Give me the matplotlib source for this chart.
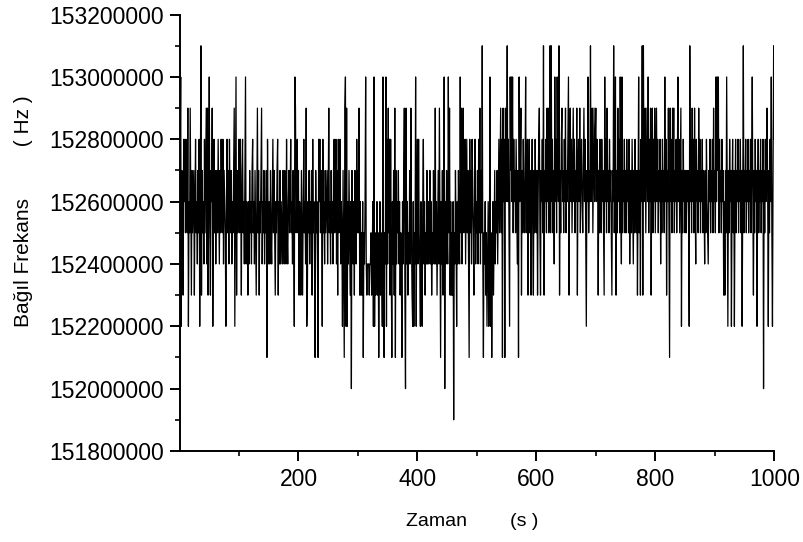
import matplotlib
matplotlib.use("Agg")
import matplotlib.pyplot as plt
from matplotlib.ticker import MultipleLocator, FuncFormatter

plt.rcParams['font.family'] = ['Liberation Sans', 'DejaVu Sans']

# Frequency readings in units of 100 kHz, one per second (t = 1..1000)
freq_0001_0050 = [1527, 1530, 1522, 1527, 1526, 1523, 1528, 1526, 1528, 1525,
                  1528, 1526, 1525, 1529, 1522, 1526, 1525, 1529, 1526, 1523,
                  1527, 1525, 1526, 1527, 1523, 1526, 1528, 1525, 1526, 1524,
                  1527, 1525, 1528, 1522, 1526, 1531, 1523, 1527, 1525, 1526,
                  1524, 1528, 1525, 1527, 1529, 1524, 1529, 1523, 1526, 1530]
freq_0051_0100 = [1525, 1523, 1527, 1526, 1529, 1522, 1526, 1528, 1525, 1527,
                  1524, 1526, 1527, 1525, 1528, 1526, 1524, 1527, 1525, 1528,
                  1526, 1525, 1528, 1524, 1527, 1526, 1525, 1522, 1526, 1528,
                  1525, 1527, 1524, 1528, 1526, 1525, 1527, 1524, 1526, 1525,
                  1527, 1529, 1522, 1526, 1530, 1523, 1527, 1525, 1526, 1528]
freq_0101_0150 = [1525, 1528, 1526, 1523, 1527, 1528, 1525, 1526, 1524, 1527,
                  1530, 1524, 1526, 1525, 1523, 1526, 1524, 1527, 1525, 1526,
                  1524, 1527, 1528, 1525, 1526, 1524, 1527, 1525, 1523, 1526,
                  1529, 1525, 1527, 1523, 1526, 1525, 1527, 1529, 1524, 1526,
                  1525, 1527, 1524, 1526, 1525, 1527, 1521, 1528, 1525, 1524]
freq_0151_0200 = [1526, 1524, 1527, 1525, 1524, 1526, 1528, 1525, 1527, 1525,
                  1523, 1526, 1525, 1527, 1528, 1523, 1526, 1524, 1527, 1524,
                  1526, 1525, 1524, 1527, 1526, 1524, 1527, 1525, 1524, 1528,
                  1525, 1524, 1526, 1527, 1525, 1526, 1528, 1525, 1526, 1524,
                  1527, 1525, 1522, 1530, 1529, 1525, 1526, 1528, 1525, 1527]
freq_0201_0250 = [1523, 1526, 1525, 1523, 1527, 1525, 1523, 1526, 1528, 1525,
                  1526, 1524, 1529, 1522, 1523, 1526, 1525, 1527, 1524, 1526,
                  1525, 1527, 1523, 1528, 1525, 1526, 1524, 1521, 1527, 1525,
                  1526, 1524, 1521, 1528, 1526, 1528, 1525, 1527, 1526, 1522,
                  1528, 1525, 1526, 1524, 1527, 1525, 1526, 1527, 1524, 1526]
freq_0251_0300 = [1529, 1525, 1526, 1524, 1527, 1525, 1526, 1524, 1527, 1528,
                  1525, 1526, 1528, 1524, 1527, 1523, 1528, 1525, 1526, 1528,
                  1524, 1526, 1525, 1522, 1527, 1524, 1521, 1529, 1530, 1522,
                  1529, 1522, 1526, 1524, 1527, 1525, 1523, 1526, 1520, 1527,
                  1525, 1524, 1526, 1523, 1527, 1525, 1524, 1528, 1525, 1527]
freq_0301_0350 = [1525, 1529, 1523, 1526, 1523, 1525, 1523, 1526, 1521, 1525,
                  1524, 1526, 1530, 1524, 1523, 1524, 1524, 1524, 1523, 1524,
                  1524, 1525, 1523, 1524, 1526, 1522, 1530, 1522, 1525, 1523,
                  1524, 1526, 1523, 1525, 1521, 1524, 1526, 1523, 1525, 1524,
                  1522, 1530, 1523, 1521, 1525, 1524, 1530, 1522, 1528, 1524]
freq_0351_0400 = [1529, 1525, 1528, 1523, 1528, 1524, 1521, 1526, 1524, 1527,
                  1523, 1529, 1521, 1527, 1524, 1526, 1525, 1527, 1524, 1526,
                  1523, 1525, 1524, 1521, 1526, 1524, 1527, 1529, 1523, 1520,
                  1529, 1524, 1526, 1523, 1525, 1524, 1527, 1524, 1529, 1525,
                  1523, 1522, 1526, 1522, 1525, 1524, 1530, 1522, 1526, 1528]
freq_0401_0450 = [1524, 1528, 1525, 1524, 1522, 1526, 1523, 1522, 1526, 1528,
                  1524, 1526, 1523, 1525, 1524, 1527, 1524, 1526, 1524, 1525,
                  1527, 1524, 1526, 1523, 1525, 1524, 1527, 1525, 1524, 1529,
                  1524, 1526, 1523, 1525, 1527, 1524, 1529, 1525, 1521, 1526,
                  1524, 1527, 1523, 1525, 1530, 1520, 1526, 1524, 1527, 1525]
freq_0451_0500 = [1524, 1530, 1525, 1529, 1523, 1526, 1523, 1525, 1523, 1526,
                  1519, 1525, 1524, 1527, 1525, 1522, 1526, 1524, 1527, 1525,
                  1524, 1530, 1525, 1529, 1524, 1527, 1529, 1525, 1526, 1528,
                  1524, 1526, 1528, 1525, 1527, 1524, 1521, 1528, 1525, 1527,
                  1524, 1528, 1526, 1525, 1523, 1527, 1528, 1524, 1526, 1525]
freq_0501_0550 = [1527, 1524, 1528, 1525, 1529, 1524, 1527, 1525, 1531, 1524,
                  1521, 1525, 1524, 1526, 1523, 1525, 1522, 1524, 1526, 1522,
                  1524, 1530, 1522, 1525, 1521, 1524, 1526, 1523, 1525, 1527,
                  1524, 1526, 1525, 1527, 1524, 1526, 1528, 1525, 1527, 1529,
                  1525, 1528, 1521, 1529, 1526, 1528, 1521, 1529, 1526, 1527]
freq_0551_0600 = [1531, 1526, 1528, 1525, 1522, 1530, 1527, 1530, 1526, 1530,
                  1525, 1528, 1526, 1527, 1525, 1528, 1526, 1524, 1527, 1521,
                  1530, 1526, 1527, 1529, 1523, 1527, 1525, 1528, 1526, 1525,
                  1527, 1530, 1525, 1527, 1528, 1523, 1526, 1528, 1525, 1527,
                  1523, 1526, 1528, 1525, 1523, 1527, 1525, 1528, 1526, 1525]
freq_0601_0650 = [1527, 1523, 1526, 1528, 1529, 1525, 1523, 1527, 1526, 1528,
                  1525, 1531, 1523, 1527, 1526, 1528, 1525, 1529, 1526, 1529,
                  1525, 1527, 1531, 1525, 1531, 1526, 1528, 1525, 1527, 1524,
                  1530, 1526, 1528, 1525, 1530, 1527, 1526, 1531, 1523, 1527,
                  1525, 1528, 1529, 1526, 1527, 1525, 1528, 1526, 1529, 1525]
freq_0651_0700 = [1527, 1526, 1528, 1530, 1523, 1527, 1529, 1526, 1528, 1525,
                  1527, 1529, 1526, 1528, 1525, 1527, 1526, 1529, 1523, 1527,
                  1528, 1526, 1529, 1525, 1527, 1528, 1526, 1525, 1527, 1529,
                  1526, 1528, 1525, 1522, 1527, 1526, 1530, 1525, 1527, 1526,
                  1531, 1526, 1528, 1529, 1525, 1527, 1529, 1526, 1528, 1529]
freq_0701_0750 = [1526, 1528, 1527, 1523, 1527, 1525, 1528, 1526, 1525, 1528,
                  1526, 1527, 1525, 1523, 1530, 1526, 1528, 1525, 1529, 1526,
                  1527, 1525, 1528, 1526, 1527, 1525, 1523, 1527, 1526, 1531,
                  1525, 1527, 1530, 1523, 1527, 1525, 1529, 1526, 1528, 1525,
                  1530, 1526, 1524, 1530, 1525, 1527, 1526, 1528, 1525, 1527]
freq_0751_0800 = [1525, 1528, 1526, 1527, 1525, 1528, 1524, 1526, 1527, 1525,
                  1528, 1526, 1524, 1527, 1525, 1528, 1526, 1525, 1527, 1523,
                  1526, 1530, 1525, 1527, 1523, 1528, 1526, 1531, 1523, 1531,
                  1526, 1528, 1529, 1525, 1527, 1529, 1526, 1530, 1525, 1528,
                  1526, 1529, 1523, 1527, 1529, 1525, 1528, 1526, 1529, 1525]
freq_0801_0850 = [1527, 1529, 1526, 1528, 1525, 1527, 1526, 1528, 1524, 1527,
                  1525, 1528, 1526, 1527, 1525, 1530, 1526, 1528, 1523, 1527,
                  1526, 1529, 1525, 1521, 1529, 1526, 1528, 1525, 1529, 1526,
                  1529, 1525, 1527, 1526, 1528, 1525, 1527, 1530, 1526, 1528,
                  1525, 1527, 1529, 1522, 1527, 1525, 1528, 1526, 1527, 1525]
freq_0851_0900 = [1527, 1525, 1527, 1526, 1527, 1525, 1522, 1531, 1526, 1528,
                  1525, 1529, 1526, 1528, 1525, 1529, 1526, 1524, 1528, 1526,
                  1527, 1525, 1529, 1526, 1528, 1525, 1527, 1526, 1528, 1525,
                  1527, 1526, 1524, 1527, 1525, 1528, 1526, 1525, 1524, 1527,
                  1526, 1528, 1525, 1527, 1526, 1528, 1525, 1529, 1526, 1527]
freq_0901_0950 = [1525, 1530, 1526, 1530, 1527, 1530, 1525, 1528, 1526, 1527,
                  1525, 1528, 1526, 1527, 1523, 1526, 1523, 1527, 1525, 1530,
                  1526, 1522, 1527, 1525, 1528, 1526, 1527, 1522, 1526, 1528,
                  1525, 1527, 1522, 1526, 1528, 1525, 1527, 1526, 1528, 1525,
                  1527, 1526, 1528, 1525, 1527, 1522, 1526, 1531, 1525, 1527]
freq_0951_1000 = [1526, 1528, 1525, 1527, 1526, 1528, 1525, 1527, 1526, 1528,
                  1525, 1527, 1530, 1526, 1523, 1527, 1525, 1528, 1526, 1527,
                  1522, 1526, 1528, 1525, 1527, 1526, 1528, 1525, 1527, 1526,
                  1528, 1520, 1527, 1525, 1528, 1526, 1527, 1529, 1526, 1522,
                  1527, 1525, 1528, 1526, 1530, 1525, 1522, 1527, 1531, 1528]

segments = [freq_0001_0050, freq_0051_0100, freq_0101_0150, freq_0151_0200,
            freq_0201_0250, freq_0251_0300, freq_0301_0350, freq_0351_0400,
            freq_0401_0450, freq_0451_0500, freq_0501_0550, freq_0551_0600,
            freq_0601_0650, freq_0651_0700, freq_0701_0750, freq_0751_0800,
            freq_0801_0850, freq_0851_0900, freq_0901_0950, freq_0951_1000]

freq_units = [v for seg in segments for v in seg]
freq_hz = [v * 100000 for v in freq_units]
time_s = list(range(1, len(freq_hz) + 1))

x_ticks = [200, 400, 600, 800, 1000]
y_ticks = [151800000, 152000000, 152200000, 152400000, 152600000,
           152800000, 153000000, 153200000]

x_label = 'Zaman        (s )'
y_label = 'Bağıl Frekans         ( Hz )'

fig = plt.figure(figsize=(8.04, 5.42), dpi=100)
ax = fig.add_axes([0.224, 0.168, 0.739, 0.805])

ax.plot(time_s, freq_hz, color='black', linewidth=0.9)

ax.set_xlim(1, 1000)
ax.set_ylim(151800000, 153200000)
ax.set_xticks(x_ticks)
ax.set_yticks(y_ticks)
ax.xaxis.set_minor_locator(MultipleLocator(100))
ax.yaxis.set_minor_locator(MultipleLocator(100000))
ax.yaxis.set_major_formatter(FuncFormatter(lambda v, p: f"{int(round(v))}"))
ax.xaxis.set_major_formatter(FuncFormatter(lambda v, p: f"{int(round(v))}"))

for side in ['top', 'right']:
    ax.spines[side].set_visible(False)
for side in ['left', 'bottom']:
    ax.spines[side].set_linewidth(1.4)

ax.tick_params(which='major', direction='out', length=7, width=1.4,
               labelsize=16.5)
ax.tick_params(axis='x', which='major', pad=5)
ax.tick_params(axis='y', which='major', pad=4.5)
ax.tick_params(which='minor', direction='out', length=3.5, width=1.2)

fig.text(472 / 804, 1 - 522 / 542, x_label, fontsize=14,
         ha='center', va='center')
fig.text(24 / 804, 1 - 211 / 542, y_label, fontsize=15, rotation=90,
         ha='center', va='center')

fig.savefig('out.png', dpi=100)
